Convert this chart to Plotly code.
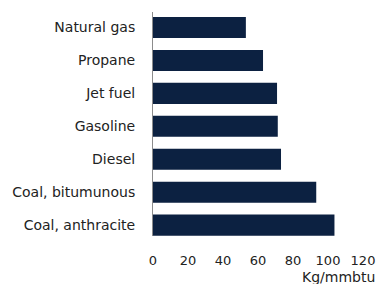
import plotly.graph_objects as go

categories = ["Natural gas", "Propane", "Jet fuel", "Gasoline", "Diesel",
              "Coal, bitumunous", "Coal, anthracite"]
values = [53.07, 62.87, 70.88, 71.30, 73.15, 93.28, 103.69]
x_ticks = [0, 20, 40, 60, 80, 100, 120]
x_label = "Kg/mmbtu"

fig = go.Figure(go.Bar(
    x=values, y=categories, orientation="h",
    marker=dict(color="#0c2141", line=dict(width=0)),
))

fig.update_layout(
    width=378, height=284,
    margin=dict(l=153, r=15, t=12, b=48, autoexpand=False),
    paper_bgcolor="white", plot_bgcolor="white",
    font=dict(family="DejaVu Sans, sans-serif", size=14, color="#222222"),
    bargap=0.36,
    showlegend=False,
    xaxis=dict(range=[0, 120], tickvals=x_ticks, showgrid=False, zeroline=False,
               showline=False, ticks="", ticklabelstandoff=15, automargin=False,
               tickfont=dict(size=13)),
    yaxis=dict(type="category", range=[6.33, -0.47], showgrid=False, zeroline=False,
               showline=True, linecolor="#8c8c8c", linewidth=1, ticks="",
               ticklabelstandoff=14, automargin=False),
    annotations=[dict(text=x_label, xref="paper", yref="paper", x=1.067, y=-0.183,
                      xanchor="right", yanchor="middle", showarrow=False,
                      font=dict(size=14, color="#222222"))],
)

fig.write_html("out.html", config={"displayModeBar": False},
               post_script="document.body.style.margin='0';document.body.style.overflow='hidden';")
